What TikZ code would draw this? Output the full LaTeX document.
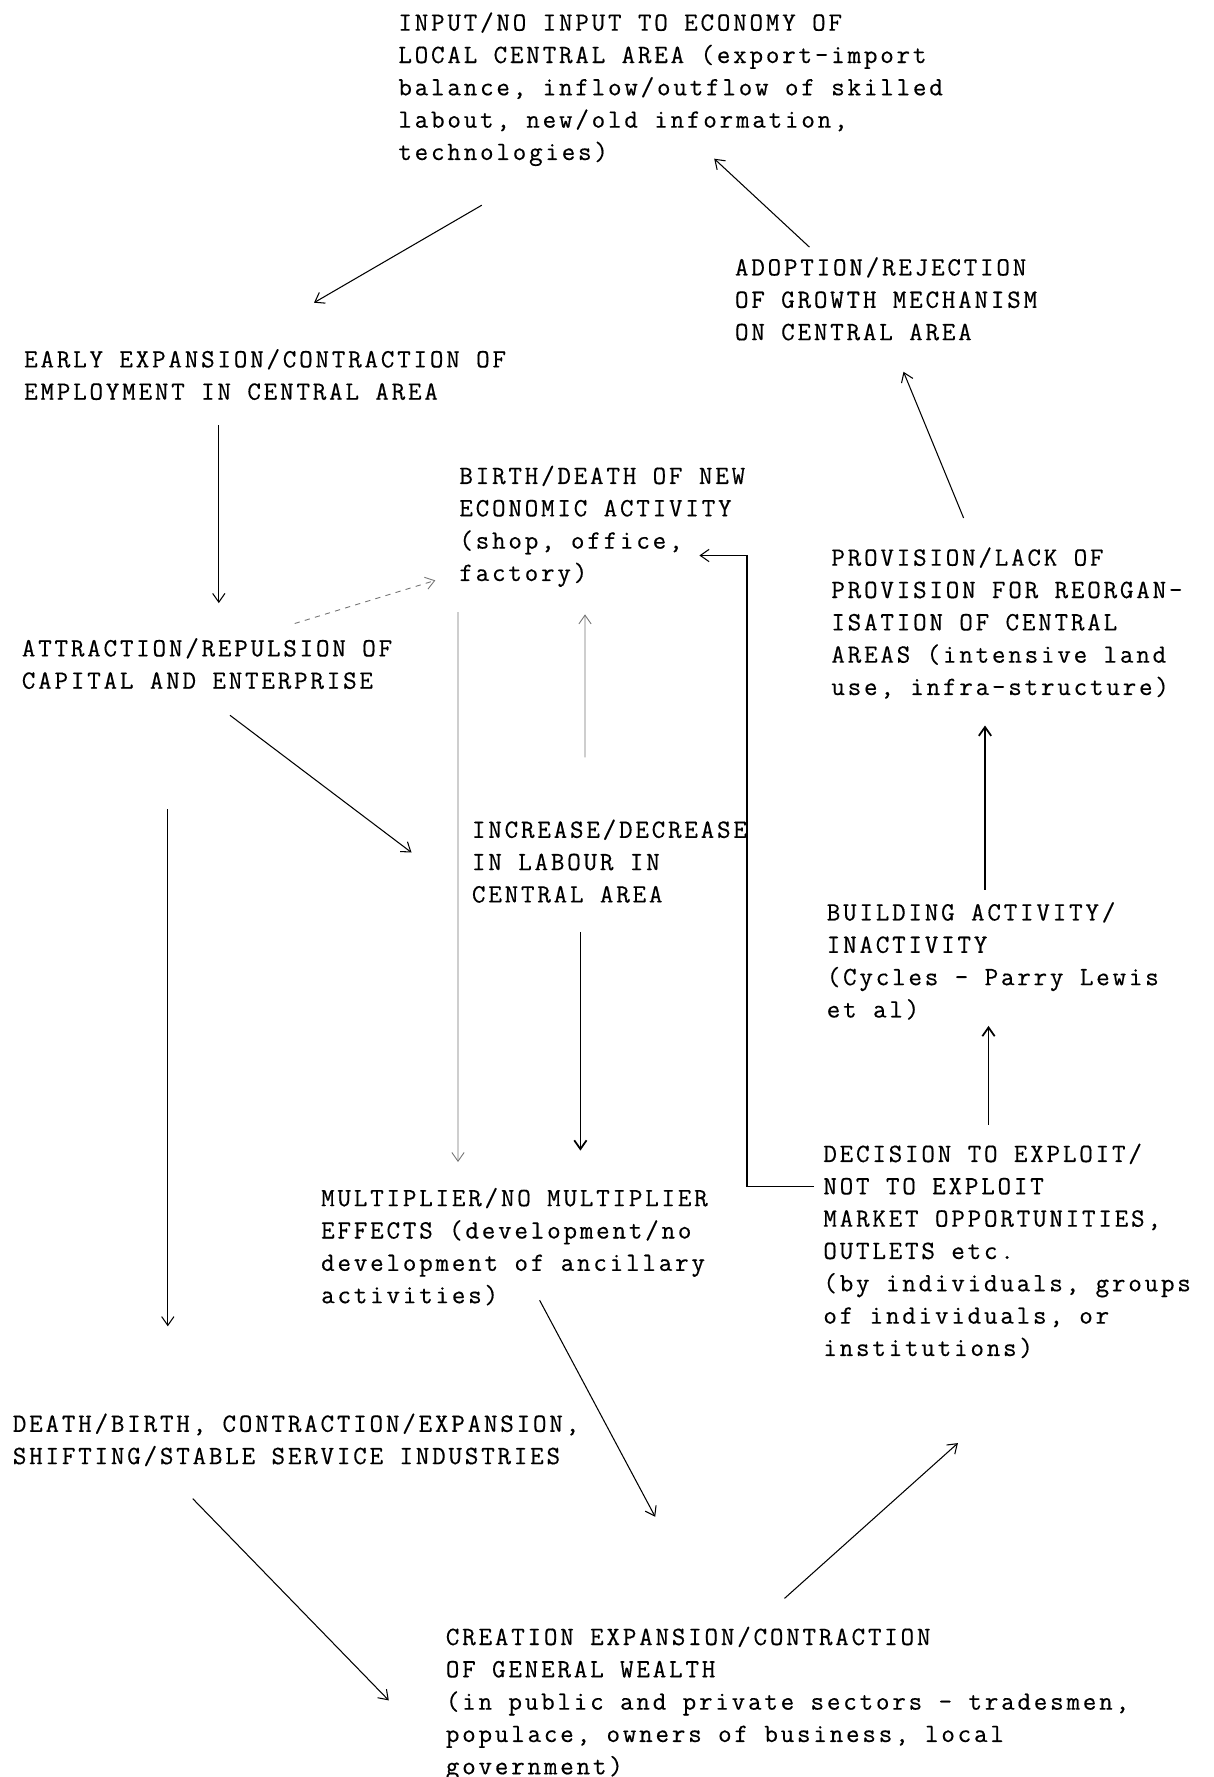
\documentclass[tikz,border=0pt]{standalone}
\usepackage{fontspec}
\setmonofont{Latin Modern Mono}[LetterSpace=10.5,FakeBold=0.4]
\usetikzlibrary{arrows.meta}

\begin{document}
\begin{tikzpicture}[x=0.02cm,y=-0.02cm,>={Straight Barb[length=5pt,width=7pt]}]
	\tikzstyle{stage}=[anchor=north west,inner sep=0pt,align=left,font=\ttfamily\fontsize{15}{18.4}\selectfont]
	\tikzstyle{link}=[->,line width=0.6pt]
	\tikzstyle{faint}=[->,line width=0.5pt,black!55]
	\tikzstyle{heavy}=[->,line width=1pt]
	\useasboundingbox (0,0) rectangle (1213,1777);

	% the stages
	\node[stage] (input) at (398,7.7) {\strut INPUT/NO INPUT TO ECONOMY OF\\LOCAL CENTRAL AREA (export-import\\balance, inflow/outflow of skilled\\labout, new/old information,\\technologies)};
	\node[stage] (adopt) at (734.6,252.5) {\strut ADOPTION/REJECTION\\OF GROWTH MECHANISM\\ON CENTRAL AREA};
	\node[stage] (early) at (23.8,344.4) {\strut EARLY EXPANSION/CONTRACTION OF\\EMPLOYMENT IN CENTRAL AREA};
	\node[stage] (birth) at (459,461) {\strut BIRTH/DEATH OF NEW\\ECONOMIC ACTIVITY\\(shop, office,\\factory)};
	\node[stage] (attract) at (21.5,633.4) {\strut ATTRACTION/REPULSION OF\\CAPITAL AND ENTERPRISE};
	\node[stage] (provision) at (831,542.7) {\strut PROVISION/LACK OF\\PROVISION FOR REORGAN-\\ISATION OF CENTRAL\\AREAS (intensive land\\use, infra-structure)};
	\node[stage] (labour) at (471.6,814.8) {\strut INCREASE/DECREASE\\IN LABOUR IN\\CENTRAL AREA};
	\node[stage] (building) at (826.4,897.5) {\strut BUILDING ACTIVITY/\\INACTIVITY\\(Cycles - Parry Lewis\\et al)};
	\node[stage] (decision) at (823,1139) {\strut DECISION TO EXPLOIT/\\NOT TO EXPLOIT\\MARKET OPPORTUNITIES,\\OUTLETS etc.\\(by individuals, groups\\of individuals, or\\institutions)};
	\node[stage] (multiplier) at (320.8,1183.2) {\strut MULTIPLIER/NO MULTIPLIER\\EFFECTS (development/no\\development of ancillary\\activities)};
	\node[stage] (service) at (12.5,1408.8) {\strut DEATH/BIRTH, CONTRACTION/EXPANSION,\\SHIFTING/STABLE SERVICE INDUSTRIES};
	\node[stage] (wealth) at (445.5,1622) {\strut CREATION EXPANSION/CONTRACTION\\OF GENERAL WEALTH\\(in public and private sectors - tradesmen,\\populace, owners of business, local\\government)};

	% the links
	\draw[link] ([shift={(83.8,197.5)}]input.north west) -- ([shift={(290.2,-41.7)}]early.north west);
	\draw[link] ([shift={(74.8,-5.4)}]adopt.north west) -- ([shift={(316.2,151)}]input.north west);
	\draw[link] ([shift={(132.6,-24.7)}]provision.north west) -- ([shift={(168.9,119.3)}]adopt.north west);
	\draw[link] ([shift={(195,80.7)}]early.north west) -- ([shift={(197.3,-30.3)}]attract.north west);
	\draw[faint,dashed] ([shift={(273.2,-9.9)}]attract.north west) -- ([shift={(-23.7,119.4)}]birth.north west);
	\draw[link] ([shift={(208.5,81.9)}]attract.north west) -- ([shift={(-60.1,37.7)}]labour.north west);
	\draw[link] ([shift={(146.3,176)}]attract.north west) -- ([shift={(155.3,-82.5)}]service.north west);
	\draw[faint] ([shift={(-1,151.2)}]birth.north west) -- ([shift={(137.2,-21.2)}]multiplier.north west);
	\draw[faint] ([shift={(113.4,-57.5)}]labour.north west) -- ([shift={(126,153.4)}]birth.north west);
	\draw[heavy] ([shift={(108.8,117)}]labour.north west) -- ([shift={(259.6,-32.6)}]multiplier.north west);
	\draw[link] ([shift={(-9,47.9)}]decision.north west) -- ++(-67,0) |- ([shift={(240.4,94.5)}]birth.north west);
	\draw[heavy] ([shift={(158.6,-7.6)}]building.north west) -- ([shift={(154,182.8)}]provision.north west);
	\draw[heavy] ([shift={(165.5,-14.5)}]decision.north west) -- ([shift={(162.1,128.4)}]building.north west);
	\draw[link] ([shift={(218.8,117)}]multiplier.north west) -- ([shift={(209.7,-105.2)}]wealth.north west);
	\draw[link] ([shift={(180.2,89.8)}]service.north west) -- ([shift={(-56.7,78.4)}]wealth.north west);
	\draw[link] ([shift={(339,-23.6)}]wealth.north west) -- ([shift={(134.9,304.1)}]decision.north west);
\end{tikzpicture}
\end{document}
